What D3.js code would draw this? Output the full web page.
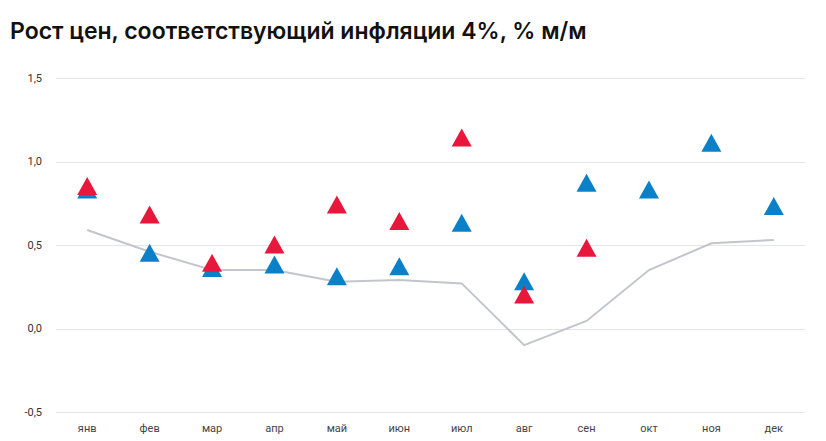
<!DOCTYPE html>
<html>
<head>
<meta charset="utf-8">
<script src="https://cdn.jsdelivr.net/npm/d3@7"></script>
<style>
  body { margin: 0; background: #fff; }
  svg { display: block; }
</style>
</head>
<body>
<div id="chart"></div>
<script>
var months = ["янв", "фев", "мар", "апр", "май", "июн", "июл", "авг", "сен", "окт", "ноя", "дек"];
var yTicks = [-0.5, 0, 0.5, 1.0, 1.5];
// grey line
var norm4 = [0.59, 0.46, 0.35, 0.35, 0.28, 0.29, 0.27, -0.10, 0.045, 0.35, 0.51, 0.53];
// blue triangles
var seriesBlue = [0.83, 0.45, 0.36, 0.38, 0.31, 0.37, 0.63, 0.28, 0.87, 0.83, 1.11, 0.73];
// red triangles
var seriesRed = [0.85, 0.68, 0.39, 0.50, 0.74, 0.64, 1.14, 0.20, 0.48, null, null, null];

var width = 826, height = 441;
var plotLeft = 56, plotRight = 805, plotTop = 78, plotBottom = 412;

var svg = d3.select("#chart").append("svg")
  .attr("width", width)
  .attr("height", height);

svg.append("text")
  .attr("x", 10)
  .attr("y", 39)
  .attr("font-family", "Inter, Roboto, sans-serif")
  .attr("font-weight", 600)
  .attr("font-size", "23px")
  .attr("fill", "#111")
  .text("Рост цен, соответствующий инфляции 4%, % м/м");

var x = d3.scaleBand().domain(months).range([plotLeft, plotRight]);
var y = d3.scaleLinear().domain([-0.5, 1.5]).range([plotBottom, plotTop]);
var cx = function (m) { return x(m) + x.bandwidth() / 2; };

var fmt = function (v) { return d3.format(".1f")(v).replace(".", ",").replace("−", "-"); };

// grid
svg.append("g")
  .selectAll("line")
  .data(yTicks)
  .join("line")
  .attr("x1", plotLeft)
  .attr("x2", plotRight)
  .attr("y1", function (d) { return Math.round(y(d)) + 0.5; })
  .attr("y2", function (d) { return Math.round(y(d)) + 0.5; })
  .attr("stroke", "#e4e5ea")
  .attr("stroke-width", 1);

svg.append("g")
  .selectAll("text")
  .data(yTicks)
  .join("text")
  .attr("x", 42)
  .attr("y", function (d) { return y(d); })
  .attr("dy", "0.35em")
  .attr("text-anchor", "end")
  .attr("font-family", "Roboto, sans-serif")
  .attr("font-size", "11px")
  .attr("fill", "#333")
  .text(fmt);

svg.append("g")
  .selectAll("text")
  .data(months)
  .join("text")
  .attr("x", cx)
  .attr("y", 432)
  .attr("text-anchor", "middle")
  .attr("font-family", "Roboto, sans-serif")
  .attr("font-size", "11px")
  .attr("fill", "#444")
  .text(function (d) { return d; });

// line
var line = d3.line()
  .x(function (d, i) { return cx(months[i]); })
  .y(function (d) { return y(d); });

svg.append("path")
  .datum(norm4)
  .attr("d", line)
  .attr("fill", "none")
  .attr("stroke", "#c3c5cd")
  .attr("stroke-width", 2);

// triangles, centred on the point
var tri = "M0,-9.5L10,8.5L-10,8.5Z";

function drawTriangles(values, color) {
  svg.append("g")
    .selectAll("path")
    .data(values.map(function (v, i) { return { m: months[i], v: v }; })
      .filter(function (d) { return d.v !== null; }))
    .join("path")
    .attr("d", tri)
    .attr("transform", function (d) { return "translate(" + cx(d.m) + "," + y(d.v) + ")"; })
    .attr("fill", color);
}

drawTriangles(seriesBlue, "#0a80c9");
drawTriangles(seriesRed, "#e8173b");
</script>
</body>
</html>
